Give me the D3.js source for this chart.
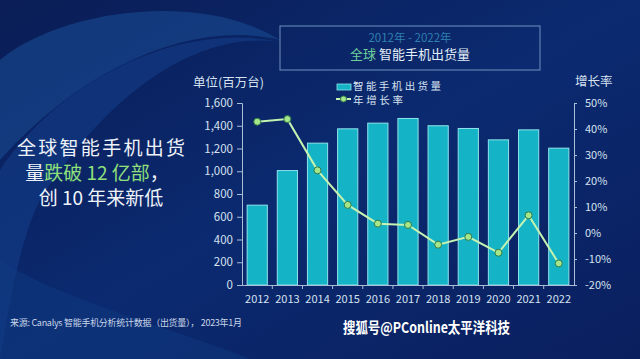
<!DOCTYPE html>
<html><head><meta charset="utf-8">
<script src="https://cdn.jsdelivr.net/npm/d3@7/dist/d3.min.js"></script>
<style>body{margin:0;background:#0b2160}svg{display:block}text{font-family:"Noto Sans CJK SC","Noto Sans",sans-serif}</style>
</head><body><svg id="c" width="640" height="359"></svg>
<script>
const years = ["2012","2013","2014","2015","2016","2017","2018","2019","2020","2021","2022"];
const shipments = [702, 1006, 1247, 1373, 1423, 1464, 1400, 1376, 1276, 1364, 1203];
const growth = [42.8, 43.8, 24.1, 10.8, 3.6, 3.1, -4.5, -1.5, -7.6, 6.8, -11.7];
const leftTicks = [0,200,400,600,800,1000,1200,1400,1600];
const rightTicks = [-20,-10,0,10,20,30,40,50];

const svg = d3.select("#c");
const defs = svg.append("defs");
const g1 = defs.append("linearGradient").attr("id","bg").attr("x1","0").attr("y1","0").attr("x2","1").attr("y2","1");
g1.append("stop").attr("offset","0").attr("stop-color","#0a1d56");
g1.append("stop").attr("offset","0.5").attr("stop-color","#0b2a70");
g1.append("stop").attr("offset","1").attr("stop-color","#0a1f5e");
svg.append("rect").attr("width",640).attr("height",359).attr("fill","url(#bg)");
// decorative curved bands
svg.append("path").attr("d","M0,60 C60,10 200,-10 280,40 C200,20 90,60 0,160 Z").attr("fill","#1a4f95").attr("opacity",0.55);
svg.append("path").attr("d","M0,170 C60,80 180,20 280,42 C200,30 110,90 40,200 C20,240 10,300 0,359 Z").attr("fill","#134290").attr("opacity",0.5);
svg.append("path").attr("d","M0,260 C60,300 180,330 250,359 L0,359 Z").attr("fill","#0f3a80").attr("opacity",0.5);

const x = d3.scaleBand().domain(years).range([242,574]).paddingInner(0.33).paddingOuter(0.17);
const y = d3.scaleLinear().domain([0,1600]).range([285,103]);
const y2 = d3.scaleLinear().domain([-20,50]).range([285,103]);

const txt = "#d6e2f0", ax = "#a9bfd8";

// title box
svg.append("rect").attr("x",280).attr("y",26).attr("width",260).attr("height",44).attr("fill","none").attr("stroke","#6f92bf").attr("stroke-width",1);
svg.append("text").attr("x",410).attr("y",42).attr("text-anchor","middle").attr("font-size",11.5).attr("fill","#2f7fb0").text("2012年 - 2022年");
const t2 = svg.append("text").attr("x",410).attr("y",59).attr("text-anchor","middle").attr("font-size",13);
t2.append("tspan").attr("fill","#6fcf9a").text("全球 ");
t2.append("tspan").attr("fill","#e4eef8").text("智能手机出货量");

// bars
svg.append("g").selectAll("rect").data(years).join("rect")
  .attr("x",d=>x(d)).attr("width",x.bandwidth())
  .attr("y",(d,i)=>y(shipments[i])).attr("height",(d,i)=>285-y(shipments[i]))
  .attr("fill","#15b3c6").attr("stroke","#8fe3ec").attr("stroke-width",1);

// axes
const gl = svg.append("g").attr("transform","translate(242,0)").call(d3.axisLeft(y).tickValues(leftTicks).tickSize(5).tickPadding(4).tickFormat(d3.format(",")));
const gr = svg.append("g").attr("transform","translate(574,0)").call(d3.axisRight(y2).tickValues(rightTicks).tickSize(3).tickPadding(8).tickFormat(d=>d+"%"));
const gb = svg.append("g").attr("transform","translate(0,285)").call(d3.axisBottom(x).tickSize(0).tickPadding(10));
[gl,gr,gb].forEach(g=>{g.selectAll("path,line").attr("stroke",ax);g.selectAll("text").attr("fill",txt).attr("font-family","'Noto Sans',sans-serif").attr("font-size",11.5);});
gb.selectAll("text").attr("font-size",11);
gr.selectAll("text").attr("font-size",11);
// ticks between bands on bottom axis
svg.append("g").selectAll("line").data(years.slice(1)).join("line")
  .attr("x1",d=>x(d)-x.step()*x.paddingInner()/2).attr("x2",d=>x(d)-x.step()*x.paddingInner()/2)
  .attr("y1",285).attr("y2",289).attr("stroke",ax);

svg.append("text").attr("x",193).attr("y",87).attr("font-size",12.5).attr("fill",txt).text("单位(百万台)");
svg.append("text").attr("x",575).attr("y",86).attr("font-size",12.5).attr("fill",txt).text("增长率");

// line
const line = d3.line().x((d,i)=>x(years[i])+x.bandwidth()/2).y(d=>y2(d));
svg.append("path").datum(growth).attr("d",line).attr("fill","none").attr("stroke","#c4f2b0").attr("stroke-width",2);
svg.append("g").selectAll("circle").data(growth).join("circle")
  .attr("cx",(d,i)=>x(years[i])+x.bandwidth()/2).attr("cy",d=>y2(d)).attr("r",3.5)
  .attr("fill","#a5e68a").attr("stroke","#2e7a4a").attr("stroke-width",1);

// legend
svg.append("rect").attr("x",337).attr("y",84).attr("width",14).attr("height",6).attr("fill","#15b3c6").attr("stroke","#8fe3ec").attr("stroke-width",0.8);
svg.append("text").attr("x",353).attr("y",90).attr("font-size",10.5).attr("fill",txt).attr("textLength",88).text("智能手机出货量");
svg.append("line").attr("x1",336).attr("x2",351).attr("y1",99).attr("y2",99).attr("stroke","#c4f2b0").attr("stroke-width",2);
svg.append("circle").attr("cx",343.5).attr("cy",99).attr("r",3).attr("fill","#a5e68a").attr("stroke","#2e7a4a");
svg.append("text").attr("x",353).attr("y",104).attr("font-size",10.5).attr("fill",txt).attr("textLength",50).text("年增长率");

// left headline
const hl = svg.append("g").attr("font-size",19).attr("text-anchor","middle");
hl.append("text").attr("x",101).attr("y",155).attr("fill","#eef3fa").attr("textLength",168).text("全球智能手机出货");
const l2 = hl.append("text").attr("x",97).attr("y",180);
l2.append("tspan").attr("fill","#eef3fa").text("量");
l2.append("tspan").attr("fill","#8fe07a").text("跌破 12 亿部");
l2.append("tspan").attr("fill","#eef3fa").text("，");
hl.append("text").attr("x",101).attr("y",205).attr("fill","#eef3fa").text("创 10 年来新低");

// source
svg.append("text").attr("x",10).attr("y",326).attr("font-size",9).attr("fill","#c9d6e8").attr("textLength",232).text("来源: Canalys 智能手机分析统计数据（出货量）， 2023年1月");
// watermark
svg.append("text").attr("x",343).attr("y",333).attr("font-size",15).attr("fill","#ffffff").attr("font-weight","bold").attr("textLength",167).attr("lengthAdjust","spacingAndGlyphs").text("搜狐号@PConline太平洋科技");
</script></body></html>
